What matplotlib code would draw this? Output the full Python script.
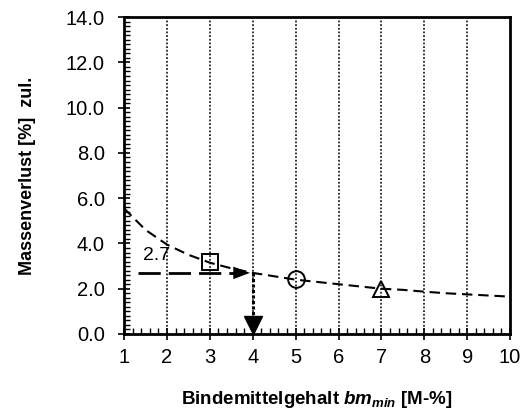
import matplotlib
matplotlib.use("Agg")
import matplotlib.pyplot as plt
from matplotlib.ticker import MultipleLocator

plt.rcParams["font.family"] = ["Liberation Sans", "DejaVu Sans"]
plt.rcParams["mathtext.fontset"] = "custom"
plt.rcParams["mathtext.it"] = "Liberation Sans:italic:bold"
plt.rcParams["mathtext.rm"] = "Liberation Sans:bold"

# Zulaessiger Massenverlust in Abhaengigkeit vom Bindemittelgehalt
bm = [1.0, 1.5, 2.0, 2.5, 3.0, 3.5, 4.0, 4.5, 5.0, 5.5,
      6.0, 6.5, 7.0, 7.5, 8.0, 8.5, 9.0, 9.5, 10.0]
massenverlust = [5.55, 4.6, 3.95, 3.5, 3.15, 2.9, 2.7, 2.55, 2.4, 2.3,
                 2.2, 2.1, 2.0, 1.95, 1.87, 1.8, 1.75, 1.7, 1.65]

# Messpunkte (Quadrat, Kreis, Dreieck)
punkte_x = [3, 5, 7]
punkte_y = [3.2, 2.42, 1.98]
punkte_marker = ["s", "o", "^"]

# Ablesebeispiel
ablese_y = 2.7
ablese_x = 4
ablese_start = 1.33
grid_x = [2, 3, 4, 5, 6, 7, 8, 9]

fig = plt.figure(figsize=(5.28, 4.18), dpi=100)
ax = fig.add_axes([0.235, 0.201, 0.731, 0.758])

for gx in grid_x:
    ax.axvline(gx, color="black", linestyle=(0, (1.2, 1.2)), linewidth=1.1,
               zorder=1)

ax.plot(bm, massenverlust, color="black", linestyle=(0, (5, 2.8)),
        linewidth=1.5, zorder=2)

for px, py, m in zip(punkte_x, punkte_y, punkte_marker):
    ax.plot(px, py, marker=m, markersize=12, markerfacecolor="none",
            markeredgecolor="black", markeredgewidth=1.4, zorder=3)

# horizontaler Pfeil bei 2.7
ax.plot([ablese_start, ablese_x - 0.3], [ablese_y, ablese_y], color="black",
        linestyle=(0, (8, 2.9)), linewidth=2.0, zorder=3)
ax.annotate("", xy=(ablese_x, ablese_y), xytext=(ablese_x - 0.4, ablese_y),
            arrowprops=dict(arrowstyle="-|>,head_length=1.2,head_width=0.45",
                            color="black", lw=0), zorder=4)
ax.text(1.44, ablese_y + 0.4, "2.7", fontsize=14, ha="left", va="bottom",
        zorder=4)

# vertikaler Pfeil nach unten
ax.plot([ablese_x, ablese_x], [ablese_y, 0.7], color="black",
        linestyle=(0, (1, 0.8)), linewidth=2.2, zorder=3)
ax.plot(ablese_x, 0.4, marker="v", markersize=13, color="black",
        zorder=4, clip_on=False)

ax.set_xlim(1, 10)
ax.set_ylim(0, 14)
ax.xaxis.set_major_locator(MultipleLocator(1))
ax.xaxis.set_minor_locator(MultipleLocator(0.2))
ax.yaxis.set_major_locator(MultipleLocator(2))
ax.yaxis.set_minor_locator(MultipleLocator(0.2))
ax.yaxis.set_major_formatter(plt.FuncFormatter(lambda v, p: f"{v:.1f}"))

ax.tick_params(which="major", direction="inout", length=8, width=1.2,
               labelsize=14.5)
ax.tick_params(axis="y", which="major", pad=10)
ax.tick_params(axis="x", which="major", pad=6)
ax.tick_params(which="minor", direction="in", length=4, width=1.0)
for s in ax.spines.values():
    s.set_linewidth(2.0)

ax.set_xlabel("Bindemittelgehalt $bm_{min}$ [M-%]",
              fontsize=13.5, fontweight="bold", labelpad=16)
ax.set_ylabel("Massenverlust [%]  zul.", fontsize=13, fontweight="bold",
              labelpad=21)

fig.savefig("out.png", dpi=100)
